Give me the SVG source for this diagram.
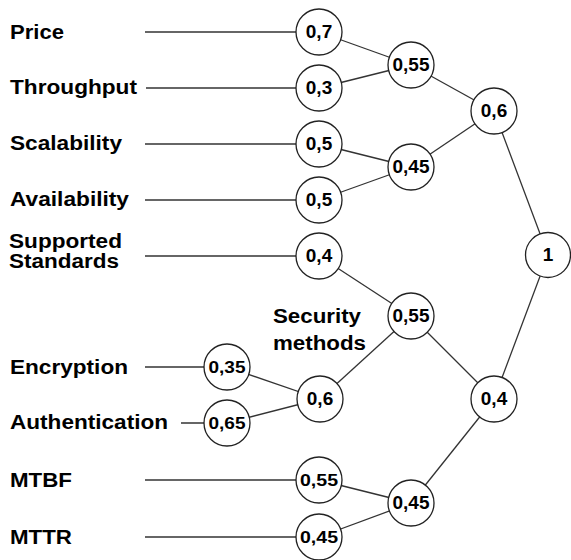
<svg xmlns="http://www.w3.org/2000/svg" width="571" height="560" viewBox="0 0 571 560">
<style>
.lbl{font-family:"Liberation Sans",Arial,sans-serif;font-weight:bold;font-size:20px;fill:#000}
.nd circle{fill:#fff;stroke:#222;stroke-width:1.3}
.nd text{font-family:"Liberation Sans",Arial,sans-serif;font-weight:bold;font-size:19px;fill:#000;text-anchor:middle}
.nd text.s{font-size:17px}
#edges line{stroke:#333;stroke-width:1.3}
</style>
<rect width="571" height="560" fill="#fff"/>
<g id="edges">
<line x1="145" y1="32" x2="319" y2="32"/>
<line x1="146" y1="88" x2="319" y2="88"/>
<line x1="145" y1="144" x2="319" y2="144"/>
<line x1="145" y1="200" x2="319" y2="200"/>
<line x1="145" y1="256" x2="319" y2="256"/>
<line x1="145" y1="367" x2="227" y2="367"/>
<line x1="181" y1="423" x2="227" y2="423"/>
<line x1="145" y1="480" x2="319" y2="480"/>
<line x1="145" y1="537" x2="319" y2="537"/>
<line x1="319" y1="32" x2="411" y2="65"/>
<line x1="319" y1="88" x2="411" y2="65"/>
<line x1="411" y1="65" x2="494" y2="111"/>
<line x1="319" y1="144" x2="411" y2="167"/>
<line x1="319" y1="200" x2="411" y2="167"/>
<line x1="411" y1="167" x2="494" y2="111"/>
<line x1="494" y1="111" x2="548" y2="255"/>
<line x1="319" y1="256" x2="411" y2="316"/>
<line x1="227" y1="367" x2="320" y2="399"/>
<line x1="227" y1="423" x2="320" y2="399"/>
<line x1="320" y1="399" x2="411" y2="316"/>
<line x1="411" y1="316" x2="494" y2="399"/>
<line x1="319" y1="480" x2="411" y2="503"/>
<line x1="319" y1="537" x2="411" y2="503"/>
<line x1="411" y1="503" x2="494" y2="399"/>
<line x1="494" y1="399" x2="548" y2="255"/>
</g>
<g id="labels">
<text class="lbl" x="10" y="39" textLength="54" lengthAdjust="spacingAndGlyphs">Price</text>
<text class="lbl" x="10" y="94" textLength="127" lengthAdjust="spacingAndGlyphs">Throughput</text>
<text class="lbl" x="10" y="150" textLength="112" lengthAdjust="spacingAndGlyphs">Scalability</text>
<text class="lbl" x="10" y="206" textLength="119" lengthAdjust="spacingAndGlyphs">Availability</text>
<text class="lbl" x="9" y="248" textLength="113" lengthAdjust="spacingAndGlyphs">Supported</text>
<text class="lbl" x="9" y="268" textLength="110" lengthAdjust="spacingAndGlyphs">Standards</text>
<text class="lbl" x="10" y="374" textLength="118" lengthAdjust="spacingAndGlyphs">Encryption</text>
<text class="lbl" x="10" y="429" textLength="158" lengthAdjust="spacingAndGlyphs">Authentication</text>
<text class="lbl" x="10" y="487" textLength="62" lengthAdjust="spacingAndGlyphs">MTBF</text>
<text class="lbl" x="10" y="544" textLength="62" lengthAdjust="spacingAndGlyphs">MTTR</text>
<text class="lbl" x="273" y="323" textLength="88" lengthAdjust="spacingAndGlyphs">Security</text>
<text class="lbl" x="273" y="350" textLength="93" lengthAdjust="spacingAndGlyphs">methods</text>
</g>
<g id="n-price" class="nd"><circle cx="319" cy="32" r="23"/><text x="319" y="38">0,7</text></g>
<g id="n-throughput" class="nd"><circle cx="319" cy="88" r="23"/><text x="319" y="94">0,3</text></g>
<g id="n-scalability" class="nd"><circle cx="319" cy="144" r="23"/><text x="319" y="150">0,5</text></g>
<g id="n-availability" class="nd"><circle cx="319" cy="200" r="23"/><text x="319" y="206">0,5</text></g>
<g id="n-standards" class="nd"><circle cx="319" cy="256" r="23"/><text x="319" y="262">0,4</text></g>
<g id="n-encryption" class="nd"><circle cx="227" cy="367" r="23"/><text class="s" x="227" y="373" textLength="37" lengthAdjust="spacingAndGlyphs">0,35</text></g>
<g id="n-authentication" class="nd"><circle cx="227" cy="423" r="23"/><text class="s" x="227" y="429" textLength="37" lengthAdjust="spacingAndGlyphs">0,65</text></g>
<g id="n-mtbf" class="nd"><circle cx="319" cy="480" r="23"/><text class="s" x="319" y="486" textLength="38" lengthAdjust="spacingAndGlyphs">0,55</text></g>
<g id="n-mttr" class="nd"><circle cx="319" cy="537" r="23"/><text class="s" x="319" y="543" textLength="38" lengthAdjust="spacingAndGlyphs">0,45</text></g>
<g id="n-cost" class="nd"><circle cx="411" cy="65" r="23"/><text x="411" y="71">0,55</text></g>
<g id="n-perf" class="nd"><circle cx="411" cy="167" r="23"/><text x="411" y="173">0,45</text></g>
<g id="n-security" class="nd"><circle cx="320" cy="399" r="23"/><text x="320" y="405">0,6</text></g>
<g id="n-sec" class="nd"><circle cx="411" cy="316" r="23"/><text x="411" y="322">0,55</text></g>
<g id="n-rel" class="nd"><circle cx="411" cy="503" r="23"/><text x="411" y="509">0,45</text></g>
<g id="n-top" class="nd"><circle cx="494" cy="111" r="23"/><text x="494" y="117">0,6</text></g>
<g id="n-bottom" class="nd"><circle cx="494" cy="399" r="23"/><text x="494" y="405">0,4</text></g>
<g id="n-root" class="nd"><circle cx="548" cy="255" r="22.5"/><text x="548" y="261">1</text></g>
</svg>
